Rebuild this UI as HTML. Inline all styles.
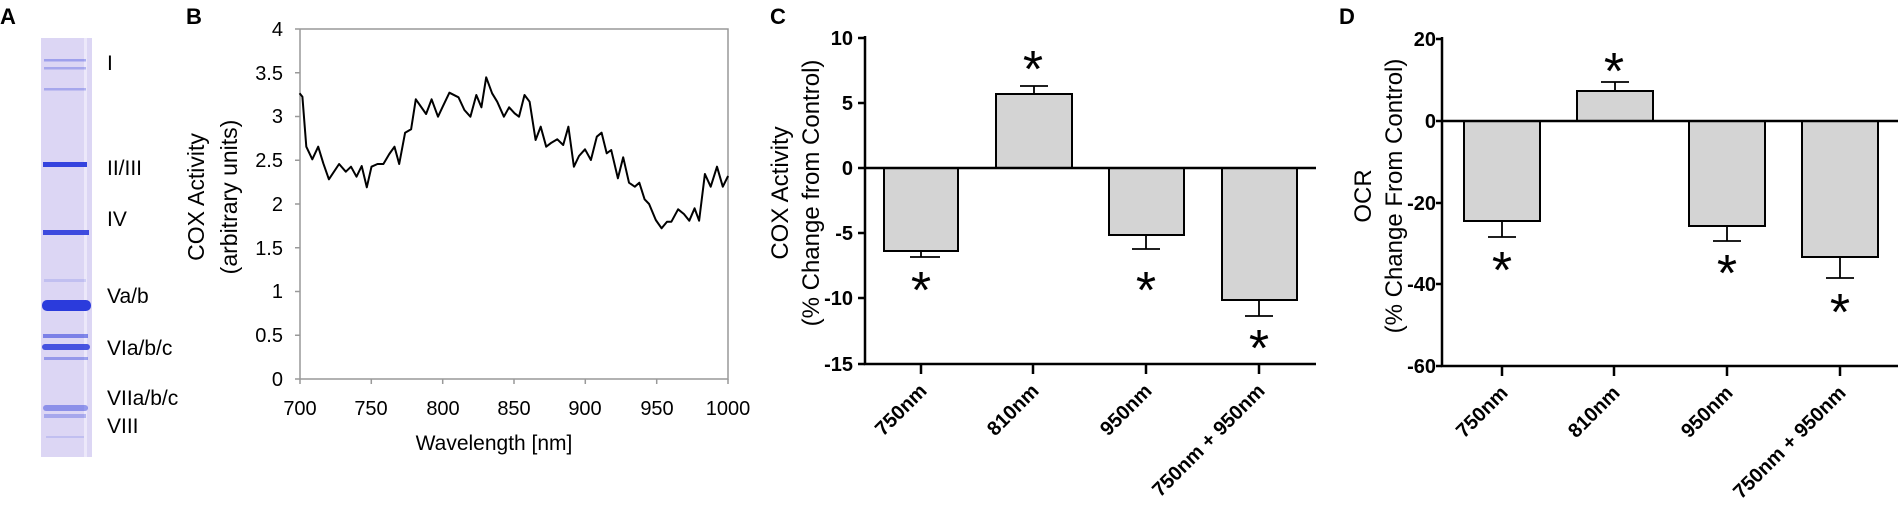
<!DOCTYPE html>
<html><head><meta charset="utf-8"><style>
html,body{margin:0;padding:0;background:#fff;}
svg{display:block;}
text{font-family:"Liberation Sans",Arial,sans-serif;}
</style></head><body>
<svg width="1900" height="510" viewBox="0 0 1900 510" xmlns="http://www.w3.org/2000/svg">
<!-- Panel A -->
<text x="0" y="24" font-size="22" font-weight="bold">A</text>
<rect x="41" y="38" width="51" height="419" fill="#dcd6f4"/>
<rect x="84" y="38" width="3" height="419" fill="#ece8fa"/>
<g fill="#2b3bdc">
<rect x="44" y="59" width="42" height="2.5" opacity="0.35"/>
<rect x="44" y="67" width="42" height="2.5" opacity="0.3"/>
<rect x="44" y="88" width="42" height="2.5" opacity="0.3"/>
<rect x="43" y="162" width="44" height="5" opacity="0.95"/>
<rect x="43" y="230" width="46" height="5" opacity="0.9"/>
<rect x="44" y="279" width="42" height="3" opacity="0.15"/>
<rect x="42" y="300" width="49" height="11" rx="5" opacity="1"/>
<rect x="43" y="334" width="45" height="4" opacity="0.55"/>
<rect x="42" y="344" width="48" height="6" rx="3" opacity="0.85"/>
<rect x="44" y="357" width="44" height="3" opacity="0.4"/>
<rect x="43" y="405" width="45" height="6" rx="3" opacity="0.45"/>
<rect x="44" y="414" width="42" height="4" opacity="0.3"/>
<rect x="46" y="436" width="38" height="2" opacity="0.15"/>
</g>
<g font-size="21" fill="#000">
<text x="107" y="70">I</text>
<text x="107" y="175">II/III</text>
<text x="107" y="226">IV</text>
<text x="107" y="303">Va/b</text>
<text x="107" y="355">VIa/b/c</text>
<text x="107" y="405">VIIa/b/c</text>
<text x="107" y="433">VIII</text>
</g>
<!-- Panel B -->
<text x="186" y="24" font-size="22" font-weight="bold">B</text>
<g stroke="#999" stroke-width="1.5" fill="none">
<polyline points="300,29 728,29 728,379 300,379 300,29"/>
<path d="M295,29H300M295,72.75H300M295,116.5H300M295,160.25H300M295,204H300M295,247.75H300M295,291.5H300M295,335.25H300M295,379H300"/>
<path d="M300,379V384M371.3,379V384M442.7,379V384M514,379V384M585.3,379V384M656.7,379V384M728,379V384"/>
</g>
<g font-size="20" text-anchor="end">
<text x="283" y="36">4</text><text x="283" y="80">3.5</text><text x="283" y="123">3</text>
<text x="283" y="167">2.5</text><text x="283" y="211">2</text><text x="283" y="255">1.5</text>
<text x="283" y="298">1</text><text x="283" y="342">0.5</text><text x="283" y="386">0</text>
</g>
<g font-size="20" text-anchor="middle">
<text x="300" y="415">700</text><text x="371" y="415">750</text><text x="443" y="415">800</text>
<text x="514" y="415">850</text><text x="585" y="415">900</text><text x="657" y="415">950</text>
<text x="728" y="415">1000</text>
<text x="494" y="450" font-size="21">Wavelength [nm]</text>
<text transform="translate(204,197) rotate(-90)" font-size="23">COX Activity</text>
<text transform="translate(237,197) rotate(-90)" font-size="23">(arbitrary units)</text>
</g>
<polyline fill="none" stroke="#000" stroke-width="2" stroke-linejoin="round" points="299.6,93.3 302.4,96.7 306.3,146.7 312.3,159.3 318.2,146.7 323.3,163.3 328.9,179.3 339.1,164 345.8,171.7 351,166.7 356.5,176.7 361.7,166 366.8,187.3 371.5,166.7 377.5,164 383.4,164 389.3,154 394.5,146.7 399.2,164 405.1,132.7 411.1,129.3 415.8,99.3 426.1,114 431.6,99.3 438,116.7 442.7,106.7 449.4,92.7 458.5,97.3 464.4,110 470.4,116.7 476.3,95 481.4,107.3 486.2,77.3 492.1,93.3 497.2,101.7 503.9,116.7 509.1,107.3 514.6,113.3 519,116.7 524.5,95 529.6,101.7 535.6,140 540.7,126.7 546.2,146.7 551.4,142.7 557.3,139.3 563.2,145 568.4,126.7 573.9,166.7 579,156 585,149.3 590.9,160 596.8,136.7 601.6,132.7 606.7,153.3 611.2,150 617.9,178.3 623.2,157.3 629,182.7 634.8,186.7 639.3,182.7 644.6,199.3 649.1,204 655.8,220 661.6,228.3 667,221.7 671.4,221.7 678.1,209.3 683.9,214 689.3,220.7 694.6,208.3 699.1,220.7 704.9,174 710.7,186.7 717,166.7 722.8,186.7 728.1,176"/>

<!-- Panel C -->
<text x="770" y="24" font-size="22" font-weight="bold">C</text>
<g fill="#d4d4d4" stroke="#000" stroke-width="2">
<rect x="884" y="168" width="74" height="83"/>
<rect x="996" y="94" width="76" height="74"/>
<rect x="1109" y="168" width="75" height="67"/>
<rect x="1222" y="168" width="75" height="132"/>
</g>
<g stroke="#000" stroke-width="1.8" fill="none">
<path d="M921,251V257M910,257H940"/>
<path d="M1034,94V86M1020,86H1048"/>
<path d="M1146,235V249M1132,249H1160"/>
<path d="M1259,300V316M1245,316H1273"/>
</g>
<g stroke="#000" stroke-width="2.5" fill="none">
<path d="M865,36V364H1316"/>
<path d="M865,168H1316"/>
<path d="M858,38H865M858,103H865M858,168H865M858,233H865M858,298H865M858,364H865"/>
<path d="M921,364V374M1033,364V374M1146,364V374M1259,364V374"/>
</g>
<g font-size="20" font-weight="bold" text-anchor="end">
<text x="853" y="45">10</text><text x="853" y="110">5</text><text x="853" y="175">0</text>
<text x="853" y="240">-5</text><text x="853" y="305">-10</text><text x="853" y="371">-15</text>
</g>
<g font-size="20" font-weight="bold" text-anchor="end">
<text transform="translate(928,392) rotate(-45)">750nm</text>
<text transform="translate(1040,392) rotate(-45)">810nm</text>
<text transform="translate(1153,392) rotate(-45)">950nm</text>
<text transform="translate(1266,392) rotate(-45)">750nm + 950nm</text>
</g>
<g font-size="24" text-anchor="middle">
<text transform="translate(788,193) rotate(-90)">COX Activity</text>
<text transform="translate(819,193) rotate(-90)">(% Change from Control)</text>
</g>
<g font-size="52" text-anchor="middle">
<text x="921" y="308">*</text>
<text x="1033" y="87">*</text>
<text x="1146" y="308">*</text>
<text x="1259" y="366">*</text>
</g>

<!-- Panel D -->
<text x="1339" y="24" font-size="22" font-weight="bold">D</text>
<g fill="#d4d4d4" stroke="#000" stroke-width="2">
<rect x="1464" y="121" width="76" height="100"/>
<rect x="1577" y="91" width="76" height="30"/>
<rect x="1689" y="121" width="76" height="105"/>
<rect x="1802" y="121" width="76" height="136"/>
</g>
<g stroke="#000" stroke-width="1.8" fill="none">
<path d="M1502,221V237M1488,237H1516"/>
<path d="M1615,91V82M1601,82H1629"/>
<path d="M1727,226V241M1713,241H1741"/>
<path d="M1840,257V278M1826,278H1854"/>
</g>
<g stroke="#000" stroke-width="2.5" fill="none">
<path d="M1442,37V366H1898"/>
<path d="M1442,121H1898"/>
<path d="M1436,39H1442M1436,121H1442M1436,203H1442M1436,284H1442M1436,366H1442"/>
<path d="M1502,366V376M1614,366V376M1727,366V376M1840,366V376"/>
</g>
<g font-size="20" font-weight="bold" text-anchor="end">
<text x="1436" y="46">20</text><text x="1436" y="128">0</text><text x="1436" y="210">-20</text>
<text x="1436" y="291">-40</text><text x="1436" y="373">-60</text>
</g>
<g font-size="20" font-weight="bold" text-anchor="end">
<text transform="translate(1509,394) rotate(-45)">750nm</text>
<text transform="translate(1621,394) rotate(-45)">810nm</text>
<text transform="translate(1734,394) rotate(-45)">950nm</text>
<text transform="translate(1847,394) rotate(-45)">750nm + 950nm</text>
</g>
<g font-size="24" text-anchor="middle">
<text transform="translate(1371,196) rotate(-90)">OCR</text>
<text transform="translate(1402,196) rotate(-90)">(% Change From Control)</text>
</g>
<g font-size="52" text-anchor="middle">
<text x="1502" y="288">*</text>
<text x="1614" y="89">*</text>
<text x="1727" y="291">*</text>
<text x="1840" y="330">*</text>
</g>
</svg>
</body></html>
